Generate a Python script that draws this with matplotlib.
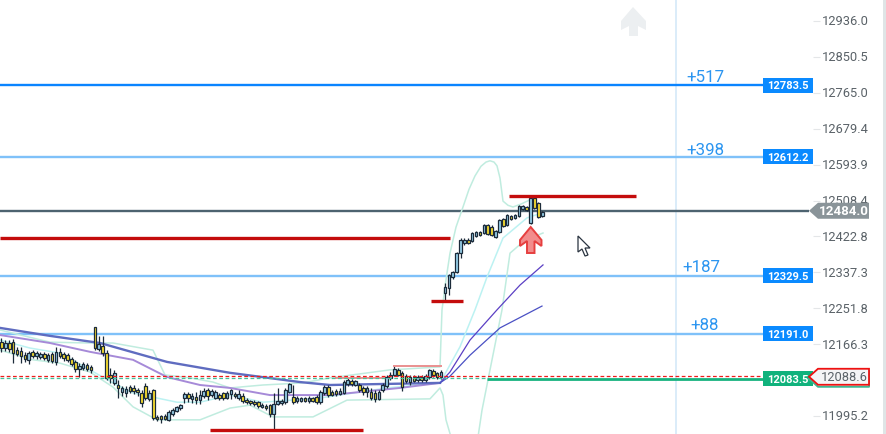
#!/usr/bin/env python
import numpy as np
import matplotlib
matplotlib.use("Agg")
import matplotlib.pyplot as plt
from matplotlib.patches import Polygon, Rectangle
from matplotlib.transforms import Affine2D, ScaledTranslation

plt.rcParams['font.family'] = ['Roboto', 'DejaVu Sans']

# candles: u = up, d = down, ten bars a row
candle_dir = ("dudddddudu" "udududdddd" "uudddudddu" "duudddddud" "ddduuuuudu"
              "duuduudduu" "dudddddudd" "uuuuuduudu" "dduuddduuu" "duddudduuu"
              "uudddududu" "udduuuuuuu" "duududduud" "uduuududdu")
candle_top = [12171,12169,12169,12171,12152,12150,12140,12145,12148,12145,
              12143,12143,12140,12143,12148,12148,12143,12140,12131,12124,
              12114,12119,12117,12112,12207,12167,12162,12145,12093,12098,
              12069,12062,12059,12064,12062,12057,12050,12067,12050,12057,
              11993,11995,11995,12005,12009,12017,12021,12048,12048,12043,
              12040,12045,12055,12057,12055,12052,12045,12050,12050,12057,
              12048,12048,12043,12033,12031,12028,12028,12021,12019,12021,
              12024,12031,12031,12057,12071,12040,12038,12038,12038,12038,
              12038,12040,12052,12064,12064,12052,12055,12055,12076,12081,
              12079,12079,12069,12062,12062,12052,12050,12052,12069,12088,
              12093,12107,12105,12098,12090,12088,12088,12088,12088,12090,
              12105,12102,12098,12100,12302,12331,12338,12383,12414,12414,
              12414,12431,12433,12433,12450,12450,12445,12436,12462,12464,
              12474,12471,12474,12495,12495,12493,12514,12514,12503,12481]
candle_bottom = [12157,12157,12155,12145,12143,12138,12131,12129,12138,12138,
                 12136,12133,12129,12126,12124,12138,12133,12129,12119,12107,
                 12107,12109,12107,12105,12157,12155,12145,12086,12086,12074,
                 12062,12052,12050,12055,12055,12052,12026,12038,12036,11990,
                 11988,11988,11988,11986,12000,12007,12014,12038,12038,12036,
                 12033,12033,12043,12043,12045,12038,12038,12038,12038,12048,
                 12043,12038,12031,12028,12026,12024,12019,12017,12014,12000,
                 12000,12024,12026,12028,12052,12028,12031,12031,12031,12031,
                 12031,12028,12028,12050,12045,12045,12048,12048,12050,12071,
                 12071,12069,12057,12052,12052,12038,12036,12036,12057,12067,
                 12086,12093,12093,12064,12079,12076,12079,12081,12081,12081,
                 12088,12093,12088,12088,12288,12300,12326,12338,12383,12407,
                 12407,12412,12424,12426,12431,12429,12426,12421,12433,12448,
                 12450,12464,12467,12471,12488,12486,12455,12491,12469,12471]
candle_high = [12181,12176,12176,12179,12160,12160,12148,12150,12152,12150,
               12148,12148,12145,12148,12160,12157,12148,12145,12136,12129,
               12121,12124,12121,12117,12207,12186,12186,12152,12109,12105,
               12081,12067,12067,12069,12069,12062,12057,12074,12057,12059,
               11998,11998,12000,12009,12014,12019,12024,12052,12052,12050,
               12052,12057,12062,12062,12059,12057,12050,12052,12055,12059,
               12052,12057,12050,12038,12033,12033,12031,12026,12024,12024,
               12050,12062,12036,12062,12074,12069,12043,12040,12040,12043,
               12040,12045,12057,12069,12069,12057,12059,12062,12081,12086,
               12083,12081,12074,12067,12067,12062,12057,12057,12074,12093,
               12100,12114,12109,12102,12095,12093,12093,12093,12093,12095,
               12107,12107,12100,12105,12312,12333,12341,12386,12419,12419,
               12419,12433,12436,12436,12452,12452,12450,12438,12464,12467,
               12476,12474,12476,12498,12498,12495,12517,12517,12505,12484]
candle_low = [12148,12150,12148,12121,12138,12121,12124,12119,12133,12131,
              12131,12129,12124,12121,12117,12133,12126,12124,12114,12100,
              12088,12105,12102,12098,12152,12150,12138,12081,12074,12069,
              12038,12043,12040,12050,12048,12043,12017,12033,12031,11986,
              11983,11979,11986,11983,11995,12005,12009,12026,12028,12026,
              12024,12024,12038,12033,12040,12036,12033,12033,12036,12036,
              12038,12033,12026,12024,12021,12019,12014,12014,12009,11993,
              11964,12021,12021,12024,12050,12024,12026,12028,12028,12026,
              12028,12024,12024,12045,12040,12043,12043,12045,12048,12067,
              12067,12067,12052,12045,12040,12033,12028,12033,12052,12062,
              12081,12090,12090,12055,12074,12069,12076,12076,12076,12076,
              12083,12088,12083,12083,12271,12283,12322,12336,12371,12402,
              12405,12410,12421,12424,12429,12426,12424,12419,12431,12445,
              12448,12462,12464,12469,12486,12484,12452,12488,12467,12469]

# moving averages and bands, chart x against price
ma_blue_x = [0,50,100,167,230,300,330,440,450,470,500,542]
ma_blue = [12205,12186,12169,12124,12098,12076,12069,12074,12090,12140,12205,12257]
ma_purple_x = [0,50,90,133,167,200,230,270,330,400,440,450,470,497,520,543]
ma_purple = [12188,12169,12148,12129,12088,12069,12062,12045,12045,12062,12074,12100,12176,12248,12307,12355]
band_mid_x = [0,30,60,90,113,133,177,200,230,263,320,387,440,450,460,475,487,503,527,542]
band_mid = [12176,12157,12145,12105,12074,12050,12028,12028,12045,12028,12038,12062,12074,12117,12160,12248,12326,12419,12467,12479]
band_up_x = [0,50,90,113,153,165,190,213,230,263,303,330,390,440,442,446,450,456,463,469,475,481,486,490,494,497,500,503,508,513,521,530]
band_up = [12200,12171,12169,12169,12152,12093,12086,12076,12062,12069,12074,12086,12105,12112,12248,12320,12383,12445,12493,12535,12567,12590,12600,12603,12600,12591,12562,12507,12497,12493,12500,12510]
band_low_x = [0,33,60,90,113,133,157,200,230,250,273,313,347,430,440,443,446,451,465,478,482,490,502,510,525,543]
band_low = [12152,12129,12121,12100,12064,12017,11986,11986,12014,12021,11993,11993,12033,12036,12062,12045,11986,11945,11867,11945,12009,12105,12248,12383,12414,12431]

# price levels
level_values = [12783.5, 12612.2, 12329.5, 12191.0]
level_text = ["+517", "+398", "+187", "+88"]
level_text_x = [686, 686, 682, 690]
level_text_up = [8.5, 7.5, 9.5, 9.5]
level_colors = ["#0a84ff", "#7fc1f9", "#7fc1f9", "#7fc1f9"]
support_start = [0, 509, 431, 210]
support_end = [450, 636, 463, 363]
support_price = [12418, 12519, 12269, 11962]
faint_start = [393, 335]
faint_end = [442, 385]
faint_price = [12114, 12086]
current_price = 12484.0
marked_price = 12088.6
green_price = 12083.5
tick_values = [12936.0, 12850.5, 12765.0, 12679.4, 12593.9, 12508.4, 12422.8,
               12337.3, 12251.8, 12166.3, 11995.2]

bar_x = 1.5 + 3.89*np.arange(len(candle_dir))
per_px = 2.382

fig = plt.figure(figsize=(8.87, 4.35), dpi=100)
ax = fig.add_axes([0, 0, 813/887, 1])
ax.set_xlim(0, 813)
ax.set_ylim(11949.9 + per_px, 12986.0 + per_px)
for s in ax.spines.values():
    s.set_visible(False)
ax.set_xticks([])
ax.yaxis.tick_right()
ax.set_yticks(tick_values)
ax.set_yticklabels(["%.1f" % v for v in tick_values])
ax.tick_params(axis='y', length=5, width=0.8, color="#e4e6e8", labelcolor="#5a6268", labelsize=9.3, pad=1.5)
up_shift = ScaledTranslation(0, 1.5/100, fig.dpi_scale_trans)
for lab in ax.get_yticklabels():
    lab.set_transform(lab.get_transform() + up_shift)

# pixel space for the small drawn shapes
px = Affine2D().scale(1, -1).translate(0, 435)

fig.add_artist(Rectangle((883, 0), 4, 435, transform=px, color="#dfe5e6", lw=0))
ax.axvline(676, color="#d8eaf9", lw=1.3, zorder=1)

# ghost arrow
ghost = [(633,8),(646,22),(646,31),(638,27),(638,37),(629,37),(629,27),(621,31),(621,22)]
fig.add_artist(Polygon(ghost, closed=True, transform=px, facecolor="#eceff1", edgecolor="none", zorder=1))

for val, col in zip(level_values, level_colors):
    ax.plot([0, 763], [val, val], color=col, lw=1.7, zorder=1.5, solid_capstyle="butt")
ax.plot([0, 809], [current_price]*2, color="#4d6370", lw=1.7, zorder=1.5, solid_capstyle="butt")

# bands and averages
ax.plot(band_up_x, band_up, color="#c0ecdf", lw=1.1, zorder=2)
ax.plot(band_low_x, band_low, color="#c0ecdf", lw=1.1, zorder=2)
ax.plot(band_mid_x, band_mid, color="#bcf2f2", lw=1.1, zorder=2)
ax.plot(ma_purple_x[:11], ma_purple[:11], color="#a68ad8", lw=1.4, zorder=2.1)
ax.plot(ma_purple_x[10:], ma_purple[10:], color="#5b3fc4", lw=0.9, zorder=2.1)
ax.plot(ma_blue_x[:8], ma_blue[:8], color="#5f6cc0", lw=1.7, zorder=2.1)
ax.plot(ma_blue_x[7:], ma_blue[7:], color="#4a50c4", lw=0.9, zorder=2.1)

# candles
top = np.array(candle_top, dtype=float)
bottom = np.array(candle_bottom, dtype=float)
ups = np.array([c == "u" for c in candle_dir])
ax.vlines(bar_x, candle_low, candle_high, color="#1c2b3a", lw=0.9, zorder=3)
ax.bar(bar_x[ups], (top-bottom)[ups], bottom=bottom[ups], width=2.6, color="#9ad4ee", edgecolor="#1c2b3a", lw=0.9, zorder=3.1)
ax.bar(bar_x[~ups], (top-bottom)[~ups], bottom=bottom[~ups], width=2.6, color="#ffe32e", edgecolor="#1c2b3a", lw=0.9, zorder=3.1)

# support and resistance segments
ax.hlines(support_price, support_start, support_end, color="#c40c0c", lw=2.4, zorder=3.5)
ax.hlines(faint_price, faint_start, faint_end, color="#ea8f8f", lw=1.4, zorder=3.5)

ax.plot([487, 763], [green_price]*2, color="#16b27e", lw=2, zorder=3.6, solid_capstyle="butt")
ax.plot([0, 487], [green_price+3]*2, color="#45c29c", lw=0.9, ls=(0, (3, 2)), zorder=3.6)
ax.plot([0, 809], [marked_price+2]*2, color="#ee1c1c", lw=0.9, ls=(0, (3, 2)), zorder=3.7)

for val, txt, tx, off in zip(level_values, level_text, level_text_x, level_text_up):
    ax.text(tx, val + off*per_px, txt, color="#2b95f0", fontsize=12.2, va="center", ha="left", zorder=4)

# price boxes
box_h = 7.5*per_px
for val, box_col in zip(level_values + [green_price], ["#0a8aff"]*4 + ["#10b27c"]):
    ax.fill([763, 813, 813, 763], [val-box_h, val-box_h, val+box_h, val+box_h], color=box_col, lw=0, zorder=6, clip_on=False)
    ax.text(788, val, "%.1f" % val, color="white", fontsize=8, fontweight="bold", ha="center", va="center", zorder=6.5, clip_on=False)

# current and marked price tags
h = 8*per_px
tag_x = [809, 818, 869, 869, 818]
ax.fill(tag_x, [current_price, current_price+h, current_price+h, current_price-h, current_price-h],
        color="#8a9499", lw=0, zorder=7, clip_on=False)
ax.text(844, current_price, "%.1f" % current_price, color="white", fontsize=9.6, fontweight="bold", ha="center", va="center", zorder=8, clip_on=False)
ax.plot(tag_x + [809], [marked_price-2*per_px+v for v in [0, h, h, -h, -h, 0]], color="#3fb592", lw=1.4, zorder=7, clip_on=False)
ax.fill(tag_x, [marked_price, marked_price+h, marked_price+h, marked_price-h, marked_price-h],
        facecolor="#f4f5f6", edgecolor="#ee1111", lw=1.3, zorder=7.5, clip_on=False)
ax.text(844, marked_price, "%.1f" % marked_price, color="#5a6268", fontsize=9.3, ha="center", va="center", zorder=8, clip_on=False)

# red arrow
arrow = [(530.7,228),(541.5,241),(541.5,247),(534.5,242),(534.5,254),(527,254),(527,242),(520,247),(520,241)]
fig.add_artist(Polygon(arrow, closed=True, transform=px, facecolor="#f28c8c", edgecolor="#e63f3f", lw=1.4, zorder=9))

# mouse cursor
cursor = [(578,237),(578,253),(582,250),(585,257),(588,256),(585,249),(590,249)]
fig.add_artist(Polygon(cursor, closed=True, transform=px, facecolor="white", edgecolor="#2a3440", lw=0.9, zorder=9))

fig.savefig("out.png", dpi=100)
